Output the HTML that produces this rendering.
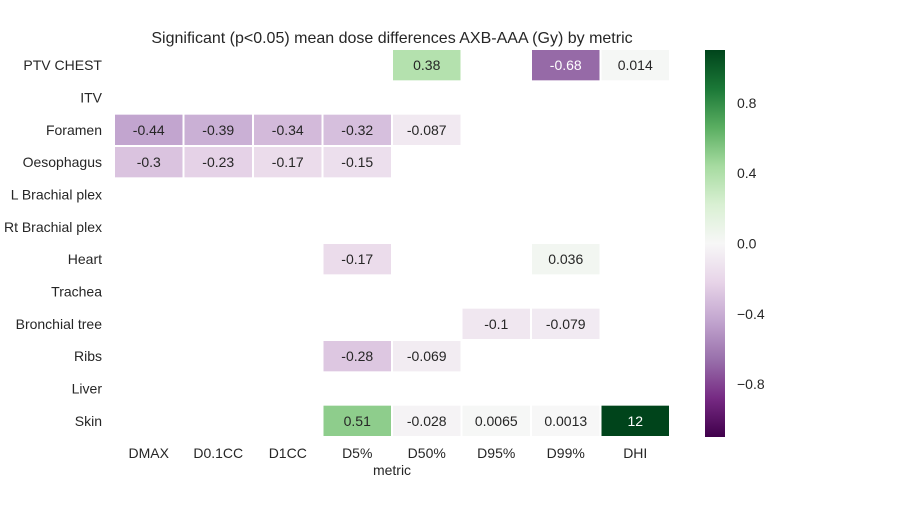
<!DOCTYPE html>
<html><head><meta charset="utf-8"><style>
body{margin:0;background:#fff;}
svg text{font-family:"Liberation Sans","DejaVu Sans",sans-serif;fill:#262626;}
</style></head><body>
<svg id="c" width="900" height="500">
<defs>
<linearGradient id="cbg" x1="0" y1="1" x2="0" y2="0">
<stop offset="0" stop-color="#40004b"/><stop offset="0.1" stop-color="#762a83"/><stop offset="0.2" stop-color="#9970ab"/><stop offset="0.3" stop-color="#c2a5cf"/><stop offset="0.4" stop-color="#e7d4e8"/><stop offset="0.5" stop-color="#f7f7f7"/><stop offset="0.6" stop-color="#d9f0d3"/><stop offset="0.7" stop-color="#a6dba0"/><stop offset="0.8" stop-color="#5aae61"/><stop offset="0.9" stop-color="#1b7837"/><stop offset="1" stop-color="#00441b"/>
</linearGradient></defs>
<text x="392" y="43" font-size="16" text-anchor="middle">Significant (p&lt;0.05) mean dose differences AXB-AAA (Gy) by metric</text>
<text x="392" y="475" font-size="14" text-anchor="middle">metric</text>
<rect x="705" y="50" width="20" height="387" fill="url(#cbg)"/>
<g id="cells"></g><g id="labels"></g>
</svg>
<script>
const rows=["PTV CHEST","ITV","Foramen","Oesophagus","L Brachial plex","Rt Brachial plex","Heart","Trachea","Bronchial tree","Ribs","Liver","Skin"];
const cols=["DMAX","D0.1CC","D1CC","D5%","D50%","D95%","D99%","DHI"];
const values=[
[null,null,null,null,0.38,null,-0.68,0.014],
[null,null,null,null,null,null,null,null],
[-0.44,-0.39,-0.34,-0.32,-0.087,null,null,null],
[-0.3,-0.23,-0.17,-0.15,null,null,null,null],
[null,null,null,null,null,null,null,null],
[null,null,null,null,null,null,null,null],
[null,null,null,-0.17,null,null,0.036,null],
[null,null,null,null,null,null,null,null],
[null,null,null,null,null,-0.1,-0.079,null],
[null,null,null,-0.28,-0.069,null,null,null],
[null,null,null,null,null,null,null,null],
[null,null,null,0.51,-0.028,0.0065,0.0013,12]];
const cbTicks=[0.8,0.4,0.0,-0.4,-0.8];
const cbLabels=["0.8","0.4","0.0","\u22120.4","\u22120.8"];
const vmin=-1.1,vmax=1.1;
const stops=["#40004b","#762a83","#9970ab","#c2a5cf","#e7d4e8","#f7f7f7","#d9f0d3","#a6dba0","#5aae61","#1b7837","#00441b"].map(h=>[1,3,5].map(i=>parseInt(h.substr(i,2),16)));
function cmap(v){let t=(Math.max(vmin,Math.min(vmax,v))-vmin)/(vmax-vmin)*10;let i=Math.min(9,Math.floor(t)),f=t-i;return stops[i].map((c,k)=>Math.round(c+(stops[i+1][k]-c)*f));}
function relLum(c){const l=c.map(x=>{x/=255;return x<=0.03928?x/12.92:Math.pow((x+0.055)/1.055,2.4);});return 0.2126*l[0]+0.7152*l[1]+0.0722*l[2];}
const X0=114,X1=670,Y0=49,Y1=437;
const cw=(X1-X0)/cols.length,rh=(Y1-Y0)/rows.length;
const xs=j=>X0+j*cw, ys=i=>Y0+i*rh;
const cy=v=>50+(vmax-v)/(vmax-vmin)*387;
const NS="http://www.w3.org/2000/svg";
const cells=document.getElementById('cells'),lab=document.getElementById('labels');
function mk(tag,a,p){const e=document.createElementNS(NS,tag);for(const k in a)e.setAttribute(k,a[k]);p.appendChild(e);return e;}
values.forEach((r,i)=>r.forEach((v,j)=>{if(v===null)return;const c=cmap(v);
const rc=mk('rect',{x:xs(j)+1,y:ys(i)+1,width:cw-2,height:rh-2,fill:`rgb(${c})`},cells);


const t=mk('text',{x:xs(j)+cw/2,y:ys(i)+rh/2+5,'font-size':14,'text-anchor':'middle'},cells);
t.style.fill=relLum(c)>0.408?'#262626':'#fff';t.textContent=String(v);

}));
rows.forEach((r,i)=>{const t=mk('text',{x:102,y:ys(i)+rh/2+5,'font-size':14,'text-anchor':'end'},lab);t.textContent=r;

});
cols.forEach((c,j)=>{const t=mk('text',{x:xs(j)+cw/2,y:458,'font-size':14,'text-anchor':'middle'},lab);t.textContent=c;

});
cbTicks.forEach((v,k)=>{const t=mk('text',{x:737,y:cy(v)+5,'font-size':14},lab);t.textContent=cbLabels[k];

});
</script>
</body></html>
